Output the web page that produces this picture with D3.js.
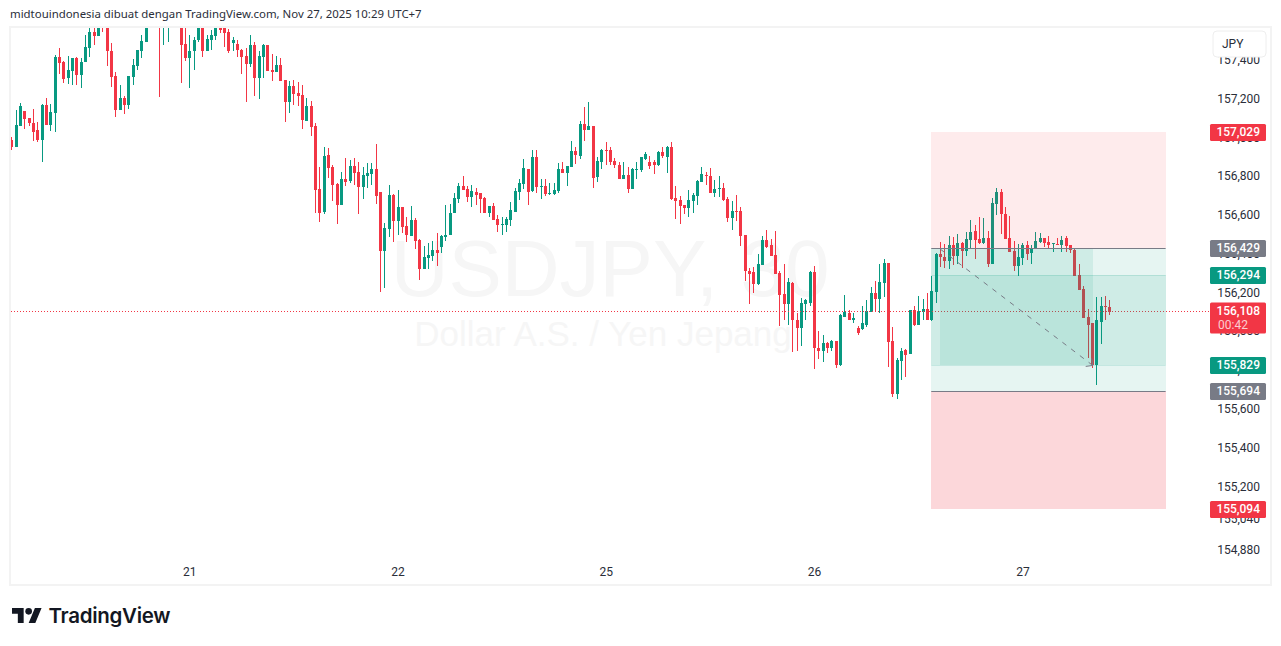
<!DOCTYPE html>
<html>
<head>
<meta charset="utf-8">
<title>USDJPY</title>
<script src="https://cdn.jsdelivr.net/npm/d3@7"></script>
<style>
	html, body { margin: 0; padding: 0; background: #fff; }
	svg { display: block; }
	text { font-family: Roboto, sans-serif; }
</style>
</head>
<body>
<div id="chart"></div>
<script>
// 30 minute candles. Some at the start run above the pane and are clipped.
const opens = [
	156.993,156.957,157.065,157.142,157.106,157.080,157.044,156.993,157.173,157.070,
	157.132,157.419,157.393,157.311,157.347,157.414,157.327,157.393,157.470,157.552,
	157.532,157.655,157.593,157.455,157.321,157.147,157.209,157.173,157.316,157.373,
	157.455,157.501,157.614,157.685,157.655,157.578,157.593,157.634,157.665,157.634,
	157.491,157.414,157.450,157.511,157.593,157.455,157.511,157.532,157.603,157.573,
	157.552,157.496,157.491,157.460,157.429,157.383,157.485,157.311,157.424,157.485,
	157.352,157.342,157.378,157.301,157.188,157.270,157.234,157.224,157.091,157.168,
	157.065,156.737,156.619,156.916,156.850,156.762,156.655,156.788,156.778,156.855,
	156.824,156.747,156.803,156.814,156.839,156.721,156.419,156.532,156.706,156.573,
	156.644,156.547,156.496,156.578,156.475,156.327,156.383,156.393,156.424,156.439,
	156.491,156.501,156.614,156.685,156.752,156.737,156.696,156.721,156.716,156.691,
	156.614,156.650,156.583,156.552,156.552,156.578,156.619,156.721,156.762,156.839,
	156.727,156.901,156.747,156.752,156.711,156.711,156.727,156.839,156.819,156.850,
	156.932,156.911,157.075,157.044,157.065,156.798,156.880,156.942,156.942,156.885,
	156.860,156.788,156.809,156.737,156.834,156.834,156.891,156.880,156.880,156.860,
	156.927,156.901,156.957,156.691,156.680,156.655,156.639,156.675,156.701,156.773,
	156.809,156.803,156.716,156.737,156.742,156.685,156.588,156.624,156.624,156.501,
	156.316,156.311,156.250,156.347,156.475,156.450,156.398,156.306,156.198,156.147,
	156.255,156.060,156.019,156.147,156.152,156.311,155.921,155.901,155.942,155.916,
	155.952,155.829,156.080,156.101,156.060,156.019,156.014,156.039,156.106,156.203,
	156.168,156.255,156.357,155.952,155.680,155.850,155.906,155.886,156.116,156.039,
	156.106,156.121,156.060,156.209,156.403,156.388,156.368,156.450,156.393,156.460,
	156.419,156.475,156.521,156.480,156.460,156.486,156.352,156.660,156.721,156.609,
	156.486,156.419,156.342,156.383,156.450,156.409,156.429,156.465,156.486,156.465,
	156.455,156.455,156.450,156.486,156.450,156.424,156.296,156.224,156.080,156.045,
	155.829,156.050,156.132,156.127
];
const highs = [
	157.009,157.147,157.183,157.142,157.106,157.152,157.085,157.178,157.209,157.178,
	157.434,157.470,157.403,157.429,157.414,157.419,157.414,157.537,157.583,157.593,
	157.629,157.680,157.644,157.496,157.342,157.275,157.219,157.321,157.409,157.460,
	157.537,157.655,157.680,157.696,157.665,157.680,157.680,157.696,157.685,157.644,
	157.624,157.537,157.527,157.624,157.624,157.537,157.562,157.603,157.614,157.603,
	157.568,157.527,157.511,157.465,157.470,157.537,157.501,157.450,157.491,157.485,
	157.439,157.429,157.414,157.301,157.296,157.301,157.291,157.275,157.209,157.193,
	157.080,156.850,156.957,156.952,156.860,156.768,156.824,156.896,156.886,156.896,
	156.875,156.850,156.870,156.870,156.968,156.721,156.562,156.757,156.711,156.732,
	156.644,156.593,156.650,156.588,156.480,156.445,156.460,156.470,156.511,156.501,
	156.655,156.660,156.716,156.768,156.803,156.752,156.757,156.742,156.716,156.696,
	156.650,156.665,156.603,156.593,156.593,156.670,156.742,156.788,156.891,156.839,
	156.937,156.937,156.788,156.788,156.768,156.768,156.870,156.875,156.855,156.988,
	156.957,157.091,157.162,157.188,157.065,156.901,156.947,156.983,156.957,156.896,
	156.875,156.880,156.850,156.845,156.875,156.901,156.927,156.906,156.886,156.932,
	156.957,156.962,156.983,156.752,156.701,156.655,156.732,156.716,156.783,156.850,
	156.824,156.845,156.783,156.803,156.768,156.696,156.675,156.706,156.644,156.501,
	156.332,156.337,156.404,156.496,156.527,156.480,156.521,156.316,156.352,156.280,
	156.260,156.096,156.178,156.173,156.316,156.342,156.004,155.983,155.947,155.962,
	155.957,156.091,156.193,156.116,156.096,156.034,156.132,156.163,156.234,156.265,
	156.352,156.378,156.357,156.029,155.865,155.916,155.911,156.116,156.132,156.188,
	156.168,156.203,156.291,156.409,156.465,156.455,156.496,156.491,156.506,156.465,
	156.516,156.578,156.552,156.593,156.588,156.521,156.691,156.742,156.737,156.644,
	156.598,156.470,156.455,156.460,156.470,156.450,156.516,156.511,156.486,156.496,
	156.460,156.486,156.496,156.496,156.450,156.429,156.352,156.239,156.121,156.045,
	156.183,156.183,156.188,156.163
];
const lows = [
	156.942,156.957,157.065,157.050,157.065,156.988,156.983,156.880,157.070,157.039,
	157.034,157.332,157.285,157.280,157.275,157.275,157.260,157.393,157.424,157.485,
	157.532,157.552,157.373,157.265,157.111,157.147,157.127,157.152,157.275,157.352,
	157.414,157.501,157.593,157.603,157.214,157.485,157.501,157.593,157.588,157.285,
	157.403,157.260,157.352,157.501,157.424,157.450,157.460,157.511,157.547,157.475,
	157.444,157.450,157.424,157.332,157.188,157.368,157.219,157.203,157.311,157.347,
	157.296,157.342,157.296,157.085,157.132,157.173,157.168,157.050,157.091,157.014,
	156.614,156.568,156.609,156.793,156.675,156.557,156.655,156.752,156.768,156.757,
	156.609,156.685,156.742,156.757,156.660,156.209,156.229,156.491,156.465,156.501,
	156.511,156.465,156.496,156.429,156.270,156.327,156.327,156.368,156.342,156.409,
	156.470,156.501,156.614,156.665,156.732,156.670,156.644,156.655,156.614,156.614,
	156.593,156.578,156.516,156.501,156.516,156.547,156.619,156.680,156.737,156.655,
	156.721,156.716,156.685,156.701,156.706,156.706,156.716,156.819,156.752,156.850,
	156.865,156.891,156.988,157.044,156.742,156.773,156.839,156.860,156.860,156.845,
	156.788,156.788,156.716,156.737,156.788,156.824,156.886,156.839,156.814,156.855,
	156.896,156.819,156.680,156.583,156.557,156.609,156.593,156.614,156.655,156.773,
	156.757,156.716,156.696,156.696,156.675,156.568,156.527,156.573,156.445,156.265,
	156.147,156.203,156.244,156.347,156.434,156.393,156.301,156.034,156.060,156.039,
	155.896,155.901,155.927,156.065,156.132,155.809,155.860,155.844,155.891,155.901,
	155.814,155.824,156.080,156.060,156.045,155.983,156.009,156.024,156.106,156.111,
	156.101,156.183,155.819,155.665,155.655,155.752,155.768,155.886,156.034,156.039,
	156.060,156.060,156.055,156.152,156.337,156.332,156.327,156.347,156.352,156.332,
	156.393,156.429,156.378,156.455,156.455,156.337,156.352,156.603,156.506,156.480,
	156.414,156.316,156.291,156.347,156.373,156.352,156.429,156.460,156.439,156.429,
	156.414,156.450,156.414,156.414,156.409,156.291,156.219,156.075,155.865,155.814,
	155.727,155.937,156.065,156.086
];
const closes = [
	156.957,157.070,157.168,157.101,157.080,157.034,156.993,157.173,157.070,157.137,
	157.419,157.388,157.306,157.352,157.414,157.327,157.398,157.475,157.552,157.532,
	157.603,157.593,157.450,157.316,157.147,157.209,157.173,157.321,157.378,157.460,
	157.506,157.629,157.665,157.644,157.573,157.644,157.655,157.675,157.624,157.485,
	157.414,157.455,157.511,157.603,157.455,157.516,157.537,157.593,157.562,157.547,
	157.455,157.511,157.460,157.419,157.383,157.485,157.311,157.429,157.485,157.347,
	157.342,157.378,157.296,157.188,157.270,157.229,157.219,157.096,157.168,157.060,
	156.732,156.614,156.911,156.845,156.757,156.655,156.788,156.773,156.855,156.819,
	156.747,156.809,156.819,156.839,156.701,156.419,156.537,156.706,156.573,156.644,
	156.542,156.501,156.578,156.470,156.327,156.388,156.398,156.424,156.409,156.496,
	156.501,156.614,156.691,156.752,156.732,156.696,156.727,156.706,156.685,156.614,
	156.650,156.578,156.552,156.557,156.583,156.629,156.726,156.768,156.845,156.721,
	156.901,156.747,156.752,156.711,156.716,156.732,156.839,156.819,156.855,156.932,
	156.916,157.075,157.044,157.065,156.793,156.885,156.942,156.937,156.880,156.860,
	156.788,156.809,156.737,156.839,156.839,156.901,156.921,156.855,156.860,156.927,
	156.906,156.957,156.685,156.675,156.650,156.639,156.680,156.706,156.778,156.814,
	156.803,156.716,156.737,156.742,156.680,156.588,156.624,156.619,156.496,156.316,
	156.301,156.250,156.352,156.475,156.439,156.393,156.301,156.193,156.147,156.260,
	156.060,156.019,156.152,156.163,156.311,155.916,155.901,155.942,155.916,155.957,
	155.829,156.086,156.106,156.065,156.075,155.998,156.045,156.111,156.203,156.168,
	156.260,156.357,155.947,155.680,155.855,155.901,155.880,156.116,156.039,156.111,
	156.121,156.060,156.214,156.403,156.388,156.368,156.450,156.393,156.460,156.419,
	156.480,156.516,156.475,156.460,156.486,156.352,156.665,156.721,156.609,156.480,
	156.414,156.342,156.388,156.450,156.403,156.434,156.470,156.486,156.460,156.450,
	156.460,156.450,156.475,156.445,156.424,156.291,156.219,156.075,156.039,155.829,
	156.060,156.137,156.127,156.106
];

// axis labels
const dayIndexes = [41, 89, 137, 185, 233];
const dayLabels = ['21', '22', '25', '26', '27'];
const priceTicks = [157.4, 157.2, 157.0, 156.8, 156.6, 156.4, 156.2, 156.0, 155.8, 155.6, 155.4, 155.2, 155.04, 154.88];

// the two position tools, prices in JPY
const stopHigh = 157.029;
const entryOne = 156.429;
const entryTwo = 156.294;
const lastPrice = 156.108;
const targetTwo = 155.829;
const targetOne = 155.694;
const stopLow = 155.094;
const positionStart = 212;
const positionStartTwo = 214;
const positionLive = 249.2;
const positionEnd = 266;

const width = 1281;
const height = 646;
const green = '#089981';
const red = '#f23645';
const grey = '#787b86';

const svg = d3
	.select('#chart')
	.append('svg')
	.attr('width', width)
	.attr('height', height);

const x = d3.scaleLinear().domain([0, 253]).range([11.3, 1109.2]);
const y = d3.scaleLog().domain([157.2, 154.88]).range([99.7, 550.7]);

const comma = (d) => d3.format('.3f')(d).replace('.', ',');

svg.append('defs')
	.append('clipPath')
	.attr('id', 'pane')
	.append('rect')
	.attr('x', 11)
	.attr('y', 28)
	.attr('width', 1198)
	.attr('height', 556);

// header
svg.append('text')
	.attr('x', 10)
	.attr('y', 18)
	.attr('fill', '#2a2e39')
	.style('font-family', '"Noto Sans"')
	.style('font-size', '11.42px')
	.text('midtouindonesia dibuat dengan TradingView.com, Nov 27, 2025 10:29 UTC+7');

// frame
svg.append('rect')
	.attr('x', 10)
	.attr('y', 27)
	.attr('width', 1261)
	.attr('height', 558)
	.attr('fill', 'none')
	.attr('stroke', '#f3f3f3')
	.attr('stroke-width', 2);

// watermark
const mark = svg.append('g').attr('fill', '#f6f6f6').attr('text-anchor', 'middle');
mark.append('text')
	.attr('x', 610)
	.attr('y', 296)
	.style('font-family', '"Liberation Sans"')
	.style('font-size', '80px')
	.text('USDJPY, 30');
mark.append('text')
	.attr('x', 603)
	.attr('y', 346)
	.style('font-family', '"Liberation Sans"')
	.style('font-size', '35px')
	.text('Dollar A.S. / Yen Jepang');

const pane = svg.append('g').attr('clip-path', 'url(#pane)');

// candles
const candles = opens.map((o, i) => ({
	i,
	o,
	h: highs[i],
	l: lows[i],
	c: closes[i],
}));
const colour = (d) => (d.c >= d.o ? green : red);
const col = (d) => Math.round(x(d.i));

const candle = pane
	.selectAll('.candle')
	.data(candles)
	.enter()
	.append('g')
	.attr('class', 'candle')
	.attr('fill', colour)
	.attr('shape-rendering', 'crispEdges');
candle
	.append('rect')
	.attr('x', col)
	.attr('width', 1)
	.attr('y', (d) => Math.round(y(d.h)))
	.attr('height', (d) => Math.max(1, Math.round(y(d.l)) - Math.round(y(d.h))));
candle
	.append('rect')
	.attr('x', (d) => col(d) - 1)
	.attr('width', 3)
	.attr('y', (d) => Math.round(y(Math.max(d.o, d.c))))
	.attr('height', (d) =>
		Math.max(1, Math.round(y(Math.min(d.o, d.c))) - Math.round(y(Math.max(d.o, d.c))))
	);

// last price line
svg.append('line')
	.attr('x1', 11)
	.attr('x2', 1209)
	.attr('y1', Math.round(y(lastPrice)) + 0.5)
	.attr('y2', Math.round(y(lastPrice)) + 0.5)
	.attr('stroke', red)
	.attr('stroke-dasharray', '1 2');

// position zones sit over the candles
const zones = [
	{ from: positionStart, to: positionEnd, top: stopHigh, bottom: entryOne, fill: red, alpha: 0.1 },
	{ from: positionStart, to: positionEnd, top: targetOne, bottom: stopLow, fill: red, alpha: 0.2 },
	{ from: positionStart, to: positionEnd, top: entryOne, bottom: targetOne, fill: green, alpha: 0.1 },
	{ from: positionStart, to: positionEnd, top: entryTwo, bottom: targetTwo, fill: green, alpha: 0.1 },
	{ from: positionStart, to: positionLive, top: entryOne, bottom: entryTwo, fill: green, alpha: 0.1 },
	{ from: positionStartTwo, to: positionLive, top: entryTwo, bottom: targetTwo, fill: green, alpha: 0.1 },
];
const snap = (d) => (d === stopLow ? Math.ceil(y(d)) : Math.floor(y(d)));
svg.selectAll('.zone')
	.data(zones)
	.enter()
	.append('rect')
	.attr('class', 'zone')
	.attr('shape-rendering', 'crispEdges')
	.attr('x', (d) => Math.round(x(d.from)))
	.attr('width', (d) => Math.round(x(d.to)) - Math.round(x(d.from)))
	.attr('y', (d) => snap(d.top))
	.attr('height', (d) => snap(d.bottom) - snap(d.top))
	.attr('fill', (d) => d.fill)
	.attr('fill-opacity', (d) => d.alpha);

svg.selectAll('.level')
	.data([entryOne, targetOne])
	.enter()
	.append('line')
	.attr('class', 'level')
	.attr('x1', x(positionStart))
	.attr('x2', x(positionEnd))
	.attr('y1', (d) => snap(d) + 0.5)
	.attr('y2', (d) => snap(d) + 0.5)
	.attr('stroke', grey);

svg.selectAll('.level2')
	.data([entryTwo, targetTwo])
	.enter()
	.append('line')
	.attr('class', 'level2')
	.attr('x1', x(positionStart))
	.attr('x2', x(positionEnd))
	.attr('y1', (d) => snap(d) + 0.5)
	.attr('y2', (d) => snap(d) + 0.5)
	.attr('stroke', green)
	.attr('stroke-opacity', 0.15);

// dashed arrow from entry down to target
const ax1 = x(positionStartTwo);
const ay1 = y(entryOne);
const ax2 = x(positionLive);
const ay2 = y(targetTwo);
const arrow = svg
	.append('g')
	.attr('stroke', grey)
	.attr('fill', 'none');
arrow
	.append('line')
	.attr('x1', ax1)
	.attr('y1', ay1)
	.attr('x2', ax2)
	.attr('y2', ay2)
	.attr('stroke-dasharray', '5 6');
arrow
	.append('path')
	.attr('d', `M${ax2 - 7},${ay2 + 1}L${ax2},${ay2}L${ax2 - 1},${ay2 - 7}`);

// axes
const priceAxis = d3
	.axisRight(y)
	.tickValues(priceTicks)
	.tickFormat(comma)
	.tickSize(0);
const axisY = svg.append('g').attr('transform', 'translate(1260,-1)').call(priceAxis);
axisY.select('.domain').remove();
axisY
	.selectAll('text')
	.attr('x', 0)
	.attr('dy', '0.32em')
	.attr('text-anchor', 'end')
	.attr('fill', '#2a2e39')
	.style('font-size', '12px')
	.style('font-family', 'Roboto');

const timeAxis = d3
	.axisBottom(x)
	.tickValues(dayIndexes)
	.tickFormat((d) => dayLabels[dayIndexes.indexOf(d)])
	.tickSize(0);
const axisX = svg.append('g').attr('transform', 'translate(0,565)').call(timeAxis);
axisX.select('.domain').remove();
axisX
	.selectAll('text')
	.attr('y', 0)
	.attr('dy', '0.9em')
	.attr('fill', '#2a2e39')
	.style('font-size', '12px')
	.style('font-family', 'Roboto');

// currency button covers the top tick
svg.append('rect')
	.attr('x', 1213)
	.attr('y', 31)
	.attr('width', 53)
	.attr('height', 26)
	.attr('rx', 4)
	.attr('fill', '#fff')
	.attr('stroke', '#eeeeee');
svg.append('text')
	.attr('x', 1222)
	.attr('y', 48)
	.attr('fill', '#2a2e39')
	.style('font-size', '12px')
	.text('JPY');

// price tags
const tagPrices = [stopHigh, entryOne, entryTwo, targetTwo, targetOne, stopLow];
const tagColours = [red, grey, green, green, grey, red];
const tags = svg
	.selectAll('.tag')
	.data(tagPrices)
	.enter()
	.append('g')
	.attr('class', 'tag')
	.attr('transform', (d) => `translate(1210,${snap(d)})`);
tags.append('rect')
	.attr('y', -8)
	.attr('width', 56)
	.attr('height', 17)
	.attr('rx', 1.5)
	.attr('fill', (d, i) => tagColours[i]);
tags.append('text')
	.attr('x', 50)
	.attr('y', 4)
	.attr('text-anchor', 'end')
	.attr('fill', '#fff')
	.style('font-size', '12px')
	.style('font-weight', 500)
	.text(comma);

const lastTag = svg.append('g').attr('transform', `translate(1210,${Math.round(y(lastPrice))})`);
lastTag
	.append('rect')
	.attr('y', -8.5)
	.attr('width', 56)
	.attr('height', 31)
	.attr('rx', 1.5)
	.attr('fill', red);
lastTag
	.append('text')
	.attr('x', 50)
	.attr('y', 4)
	.attr('text-anchor', 'end')
	.attr('fill', '#fff')
	.style('font-size', '12px')
	.style('font-weight', 500)
	.text(comma(lastPrice));
lastTag
	.append('text')
	.attr('x', 8)
	.attr('y', 18)
	.attr('fill', '#fff')
	.attr('fill-opacity', 0.75)
	.style('font-size', '12px')
	.text('00:42');

// logo
const logo = svg
	.append('g')
	.attr('transform', 'translate(12,604.7) scale(0.833)')
	.attr('fill', '#131722');
logo.append('path').attr('d', 'M14 22H7V11H0V4h14v18zM28 22h-8l7.5-18h8L28 22z');
logo.append('circle').attr('cx', 20).attr('cy', 8).attr('r', 4);
svg.append('text')
	.attr('x', 48.5)
	.attr('y', 623)
	.attr('fill', '#131722')
	.style('font-family', 'Inter')
	.style('font-size', '20.5px')
	.style('font-weight', 600)
	.style('letter-spacing', '-0.3px')
	.text('TradingView');
</script>
</body>
</html>
